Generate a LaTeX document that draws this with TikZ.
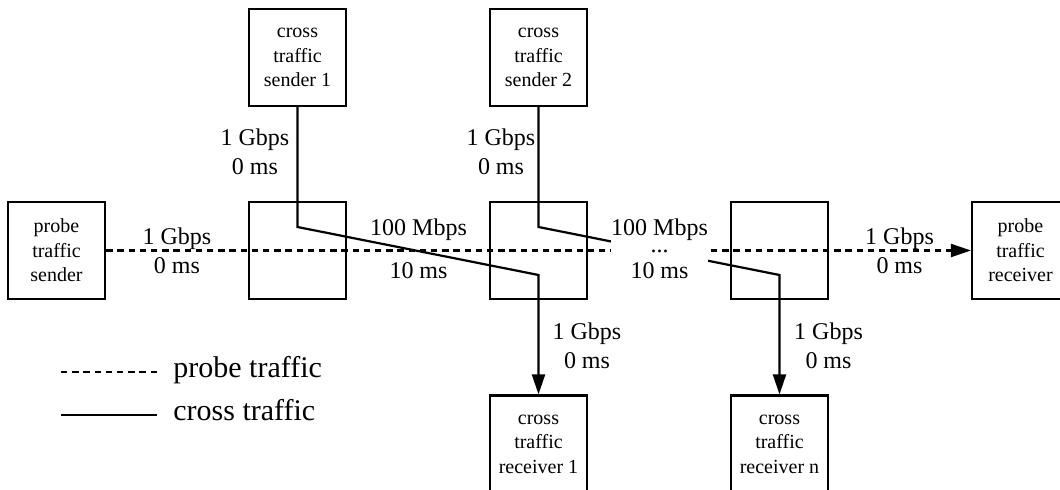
\documentclass[tikz,border=0pt]{standalone}
\usepackage{fontspec}
\setmainfont{Liberation Serif}
\usetikzlibrary{arrows.meta}

\begin{document}
\begin{tikzpicture}[x=0.5pt,y=-0.5pt,
		hostbox/.style={draw,line width=1.1pt,minimum width=48.5pt,minimum height=48.5pt,inner sep=0pt,align=center,font=\fontsize{10}{12.2}\selectfont},
		linklabel/.style={align=center,inner sep=0pt,font=\fontsize{12}{14.4}\selectfont},
		legendtext/.style={inner sep=0pt,anchor=base west,font=\fontsize{15}{18}\selectfont},
		probe/.style={line width=1.1pt,dash pattern=on 3.2pt off 2.4pt},
		cross/.style={line width=1.1pt},
		sendto/.style={-{Triangle[length=10pt,width=6.5pt]}}]
			\useasboundingbox (0,0) rectangle (1060,490);
			\clip (0,0) rectangle (1060,490);
			
			\node[hostbox] (ps) at (56.5,250.5) {probe\\traffic\\sender};
			\node[hostbox] (r1) at (297.5,250.5) {};
			\node[hostbox] (r2) at (538.5,250.5) {};
			\node[hostbox] (r3) at (779.5,250.5) {};
			\node[hostbox] (pr) at (1020.5,250.5) {probe\\traffic\\receiver};
			
			\node[hostbox] (cs1) at (297.5,57.5) {cross\\traffic\\sender 1};
			\node[hostbox] (cs2) at (538.5,57.5) {cross\\traffic\\sender 2};
			\node[hostbox] (cr1) at (538.5,444) {cross\\traffic\\receiver 1};
			\node[hostbox] (crn) at (779.5,444) {cross\\traffic\\receiver n};
			
			
			\coordinate (k1) at (297.5,227);
			\coordinate (k2) at (538.5,275);
			\coordinate (k3) at (538.5,227);
			\coordinate (k4) at (779.5,275);
			\draw[cross,sendto] (cs1.south) -- (k1) -- (k2) -- (cr1.north);
			\draw[cross,sendto] (cs2.south) -- (k3) -- (k4) -- (crn.north);
			\draw[probe,sendto] (ps.east) -- (pr.west);
			
			\node[linklabel] (l1) at (177,251) {1 Gbps\\0 ms};
			\node[linklabel] (l2) at (418.5,248.5) {100 Mbps\\[7pt]10 ms};
			\node[linklabel,fill=white] (l3) at (659.5,248.5) {100 Mbps\\[-5.7pt]...\\[-1.6pt]10 ms};
			\node[linklabel] (l4) at (899.5,251) {1 Gbps\\0 ms};
			
			\node[linklabel] (v1) at (255,152) {1 Gbps\\0 ms};
			\node[linklabel] (v2) at (501,152) {1 Gbps\\0 ms};
			\node[linklabel] (v3) at (587,345.5) {1 Gbps\\0 ms};
			\node[linklabel] (v4) at (828.5,345.5) {1 Gbps\\0 ms};
			
			\coordinate (pa) at (61,372);
			\coordinate (pb) at (157,372);
			\coordinate (ca) at (61,415);
			\coordinate (cb) at (157,415);
			\draw[probe] (pa) -- (pb);
			\draw[cross] (ca) -- (cb);
			\node[legendtext] (pl) at (173,378) {probe traffic};
			\node[legendtext] (cl) at (173,421) {cross traffic};

	\end{tikzpicture}
\end{document}
